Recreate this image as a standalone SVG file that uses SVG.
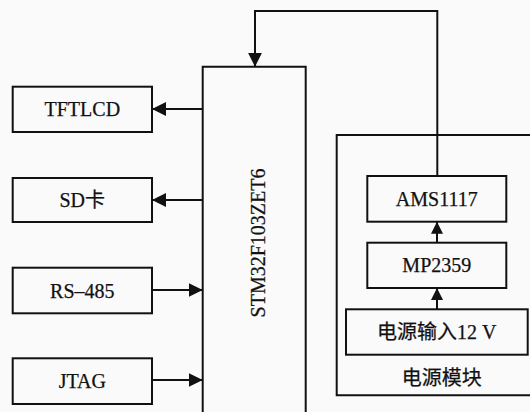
<svg xmlns="http://www.w3.org/2000/svg" width="530" height="412" viewBox="0 0 530 412">
<style>
.box{fill:none;stroke:#111;stroke-width:2}
.ln{fill:none;stroke:#111;stroke-width:2}
.t{font-family:"Liberation Serif","Noto Sans CJK SC",serif;font-size:20px;fill:#111;stroke:#111;stroke-width:0.25;text-anchor:middle}
</style>
<defs>
<marker id="ah" markerUnits="userSpaceOnUse" markerWidth="14" markerHeight="14" viewBox="0 0 14 14" refX="14" refY="7" orient="auto">
<path d="M0,0 L14,7 L0,14 Z" fill="#111"/>
</marker>
<marker id="ahs" markerUnits="userSpaceOnUse" markerWidth="12" markerHeight="12" viewBox="0 0 12 12" refX="12" refY="6" orient="auto">
<path d="M0,0 L12,6 L0,12 Z" fill="#111"/>
</marker>
</defs>
<rect x="0" y="0" width="530" height="412" fill="#fafafa"/>
<g id="stm">
<path class="box" d="M202.7,414 V66.7 H305.7 V414"/>
<text class="t" transform="translate(265,243) rotate(-90)">STM32F103ZET6</text>
</g>
<g id="tftlcd">
<rect class="box" x="12.7" y="86.7" width="139.3" height="45.3"/>
<text class="t" x="82.3" y="116">TFTLCD</text>
</g>
<g id="sd">
<rect class="box" x="12.7" y="178" width="139.3" height="44"/>
<text class="t" x="82.3" y="207">SD卡</text>
</g>
<g id="rs485">
<rect class="box" x="12.7" y="267.7" width="139.3" height="45.6"/>
<text class="t" x="82.3" y="297.5">RS–485</text>
</g>
<g id="jtag">
<rect class="box" x="12.7" y="358.3" width="139.3" height="45.7"/>
<text class="t" x="82.3" y="388">JTAG</text>
</g>
<g id="power">
<path class="box" d="M535,135 H336.7 V395.3 H535"/>
<text class="t" x="441.7" y="385">电源模块</text>
</g>
<g id="ams">
<rect class="box" x="367.3" y="176" width="139" height="45.7"/>
<text class="t" x="436.8" y="206">AMS1117</text>
</g>
<g id="mp">
<rect class="box" x="367.3" y="242.7" width="139" height="45.3"/>
<text class="t" x="436.8" y="272">MP2359</text>
</g>
<g id="input">
<rect class="box" x="346" y="309.3" width="181.7" height="45.4"/>
<text class="t" x="436.8" y="339">电源输入12 V</text>
</g>
<g id="connectors">
<line class="ln" x1="202.7" y1="109" x2="152" y2="109" marker-end="url(#ah)"/>
<line class="ln" x1="202.7" y1="200" x2="152" y2="200" marker-end="url(#ah)"/>
<line class="ln" x1="152" y1="290" x2="202.7" y2="290" marker-end="url(#ah)"/>
<line class="ln" x1="152" y1="380" x2="202.7" y2="380" marker-end="url(#ah)"/>
<path class="ln" d="M437.3,176 V11 H255 V66.7" marker-end="url(#ah)"/>
<line class="ln" x1="437" y1="242.7" x2="437" y2="221.7" marker-end="url(#ahs)"/>
<line class="ln" x1="437" y1="309.3" x2="437" y2="288" marker-end="url(#ahs)"/>
</g>
</svg>
